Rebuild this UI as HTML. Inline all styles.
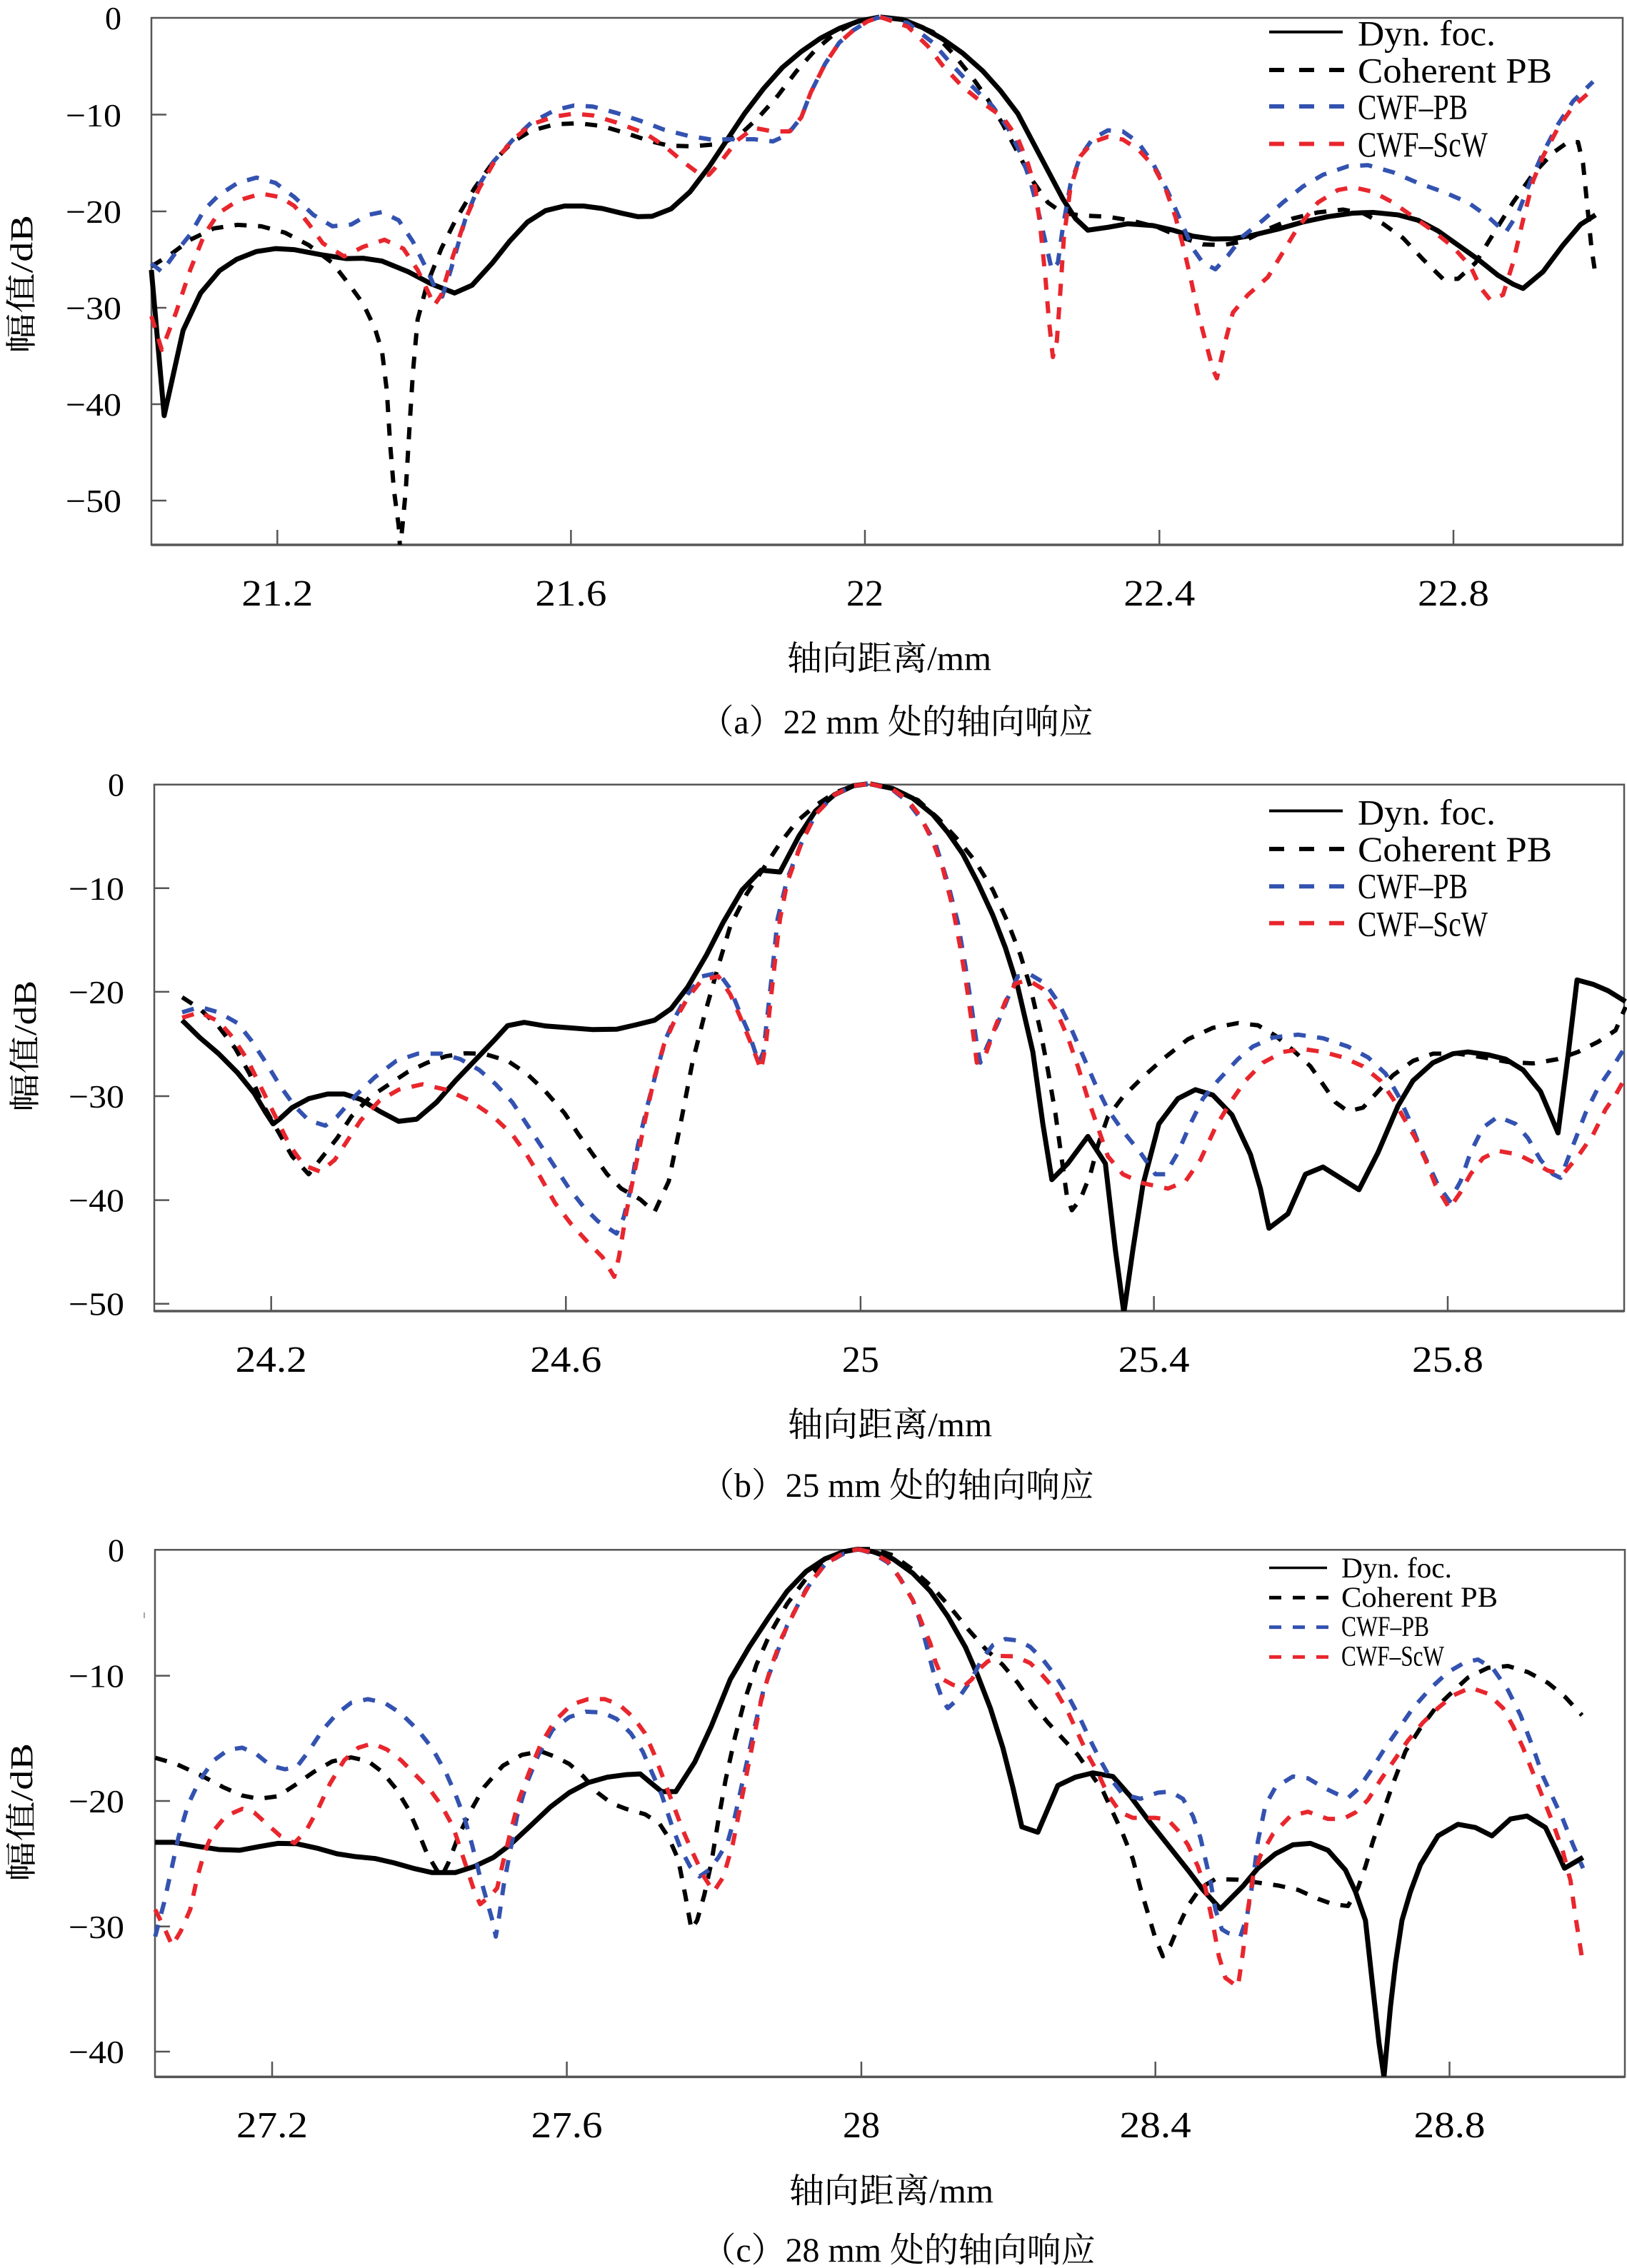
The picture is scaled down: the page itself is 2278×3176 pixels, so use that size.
<!DOCTYPE html>
<html><head><meta charset="utf-8">
<style>
html,body{margin:0;padding:0;background:#fff;}
svg{display:block;}
.l{fill:none;stroke-linejoin:round;stroke-linecap:butt;vector-effect:non-scaling-stroke;}
.s{stroke:#000;stroke-width:7;}
.c{stroke:#000;stroke-width:6;stroke-dasharray:17 16;}
.b{stroke:#3352b0;stroke-width:6;stroke-dasharray:17 16;}
.r{stroke:#e8262d;stroke-width:6;stroke-dasharray:17 16;}
.fr{fill:none;stroke:#555;stroke-width:2.5;}
.tk{stroke:#555;stroke-width:2.5;}
.yt{font-family:"Liberation Serif",serif;font-size:46px;text-anchor:end;fill:#000;}
.xt{font-family:"Liberation Serif","Noto Serif CJK SC",serif;font-size:52px;text-anchor:middle;fill:#000;}
.cap{font-family:"Liberation Serif","Noto Serif CJK SC",serif;font-size:48px;text-anchor:middle;fill:#000;}
.yl{font-family:"Liberation Serif","Noto Serif CJK SC",serif;font-size:44px;text-anchor:middle;fill:#000;}
.lg{font-family:"Liberation Serif",serif;font-size:50px;fill:#000;}
.lg2{font-family:"Liberation Serif",serif;font-size:40px;fill:#000;}
.ls{stroke:#000;stroke-width:4;}
.lc{stroke:#000;stroke-width:6;stroke-dasharray:21 21;}
.lb{stroke:#3352b0;stroke-width:6;stroke-dasharray:21 21;}
.lr{stroke:#e8262d;stroke-width:6;stroke-dasharray:21 21;}
</style></head>
<body>
<svg width="2278" height="3176" viewBox="0 0 2278 3176" xmlns="http://www.w3.org/2000/svg">
<defs>
<clipPath id="ca" clipPathUnits="userSpaceOnUse"><rect x="200" y="10" width="2080" height="753"/></clipPath>
<clipPath id="cb" clipPathUnits="userSpaceOnUse"><rect x="200" y="1085" width="2080" height="751"/></clipPath>
<clipPath id="cc" clipPathUnits="userSpaceOnUse"><rect x="200" y="2155" width="2080" height="753"/></clipPath>
</defs>
<rect x="0" y="0" width="2278" height="3176" fill="#fff"/>

<!-- ================= PANEL A ================= -->
<rect class="fr" x="212" y="25" width="2060" height="738"/>
<line class="tk" x1="212" y1="763" x2="2272" y2="763" style="stroke-width:3.5"/>
<g class="tk">
<line x1="212" y1="160.5" x2="233" y2="160.5"/><line x1="212" y1="296" x2="233" y2="296"/><line x1="212" y1="431" x2="233" y2="431"/><line x1="212" y1="566" x2="233" y2="566"/><line x1="212" y1="701" x2="233" y2="701"/>
<line x1="388.3" y1="763" x2="388.3" y2="742"/><line x1="799.4" y1="763" x2="799.4" y2="742"/><line x1="1211" y1="763" x2="1211" y2="742"/><line x1="1623.3" y1="763" x2="1623.3" y2="742"/><line x1="2035" y1="763" x2="2035" y2="742"/>
</g>
<text class="yt" x="170" y="41">0</text>
<text class="yt" x="170" y="177" textLength="78" lengthAdjust="spacingAndGlyphs">−10</text>
<text class="yt" x="170" y="312" textLength="78" lengthAdjust="spacingAndGlyphs">−20</text>
<text class="yt" x="170" y="447" textLength="78" lengthAdjust="spacingAndGlyphs">−30</text>
<text class="yt" x="170" y="582" textLength="78" lengthAdjust="spacingAndGlyphs">−40</text>
<text class="yt" x="170" y="717" textLength="78" lengthAdjust="spacingAndGlyphs">−50</text>
<text class="xt" x="388.3" y="848" textLength="100" lengthAdjust="spacingAndGlyphs">21.2</text>
<text class="xt" x="799.4" y="848" textLength="100" lengthAdjust="spacingAndGlyphs">21.6</text>
<text class="xt" x="1211" y="848">22</text>
<text class="xt" x="1623.3" y="848" textLength="100" lengthAdjust="spacingAndGlyphs">22.4</text>
<text class="xt" x="2035" y="848" textLength="100" lengthAdjust="spacingAndGlyphs">22.8</text>
<text class="yl" transform="translate(45,398) rotate(-90)" x="0" y="0" textLength="194" lengthAdjust="spacingAndGlyphs">幅值/dB</text>
<text class="cap" x="1245" y="938" textLength="286" lengthAdjust="spacingAndGlyphs">轴向距离/mm</text>
<text class="cap" x="1255" y="1027" textLength="551" lengthAdjust="spacingAndGlyphs">（a）22 mm 处的轴向响应</text>

<g clip-path="url(#ca)">
<g transform="translate(200,0) scale(0.6633,0.4974)">
<polyline class="l s" points="18,760 45,1170 85,930 122,825 162,762 198,730 240,708 280,700 320,703 380,718 430,728 465,727 505,735 560,765 610,800 658,825 695,803 738,740 775,678 812,625 850,593 890,580 930,580 970,587 1010,600 1045,610 1075,609 1115,588 1155,540 1195,470 1230,400 1270,320 1310,250 1350,190 1390,145 1430,108 1470,80 1510,60 1555,48"/>
<polyline class="l c" points="18,750 60,715 100,675 150,643 200,633 250,637 300,655 350,690 400,740 435,800 465,855 490,925 505,990 515,1100 522,1250 530,1380 540,1480 543,1545 548,1480 555,1380 563,1200 570,1050 580,900 600,800 630,700 660,620 700,530 740,455 780,400 820,368 870,350 920,347 970,355 1020,375 1070,397 1110,410 1160,412 1220,405 1260,380 1300,330 1340,270 1380,200 1420,140 1460,95 1500,65 1555,48"/>
<polyline class="l b" points="18,742 40,765 70,710 100,660 130,590 160,550 200,515 240,500 280,515 320,555 360,605 400,637 440,632 475,605 505,597 540,620 570,680 600,760 620,820 632,835 650,760 680,620 710,520 740,455 780,395 820,345 870,310 910,297 950,300 1000,318 1050,340 1100,365 1150,382 1200,393 1250,392 1290,392 1330,398 1360,380 1390,330 1410,260 1440,180 1470,120 1500,85 1530,60 1555,48"/>
<polyline class="l r" points="18,890 40,985 70,880 100,760 130,660 160,600 200,565 250,545 290,555 320,580 350,630 380,685 425,722 465,695 510,675 550,700 580,760 605,830 615,860 630,830 650,740 680,620 710,530 740,460 780,395 820,350 870,328 910,320 950,325 1000,345 1060,375 1100,410 1140,455 1175,490 1195,492 1220,455 1255,395 1290,360 1330,370 1365,370 1390,330 1410,260 1440,180 1470,120 1500,85 1530,60 1555,48"/>
</g>
<g transform="translate(1180,0) scale(0.7003,0.4974)">
<polyline class="l s" points="75,48 120,55 160,78 200,110 240,150 280,200 315,255 350,320 380,400 410,480 440,560 465,615 490,648 530,640 570,630 620,635 660,648 700,665 740,673 780,672 820,662 870,645 920,625 970,610 1020,600 1060,598 1110,605 1150,620 1190,650 1230,690 1270,730 1310,775 1340,800 1360,812 1400,765 1440,690 1475,632 1505,605"/>
<polyline class="l c" points="75,48 130,60 180,90 220,150 260,220 290,280 320,350 350,430 380,510 410,570 440,600 480,607 530,610 580,622 630,640 680,670 720,688 760,690 800,680 850,645 900,615 950,598 1000,590 1040,600 1080,630 1120,670 1160,730 1200,785 1230,785 1265,740 1300,660 1340,570 1380,490 1420,430 1450,400 1470,400 1480,460 1490,600 1497,700 1505,775"/>
<polyline class="l b" points="75,48 130,65 180,120 220,185 260,245 300,300 330,360 355,430 375,510 390,590 405,680 418,760 430,740 440,640 455,520 475,440 500,390 530,367 560,370 590,400 620,460 650,540 675,620 700,700 720,740 745,758 770,720 800,665 840,620 880,570 920,525 960,492 1010,468 1050,465 1100,485 1150,515 1200,540 1250,570 1290,610 1325,655 1350,600 1375,510 1400,430 1430,350 1460,285 1500,230"/>
<polyline class="l r" points="75,48 130,75 170,130 200,185 240,245 280,290 320,330 350,390 370,460 385,530 395,640 405,780 412,900 420,1005 428,960 435,820 442,670 455,530 475,440 500,400 530,385 560,393 590,420 620,465 645,530 665,610 680,690 695,780 710,880 725,960 740,1040 748,1065 755,1020 765,960 780,880 810,830 850,780 880,710 910,640 950,570 990,535 1020,527 1060,540 1100,570 1140,610 1180,650 1220,695 1255,750 1275,810 1295,845 1320,830 1340,740 1360,620 1380,510 1400,440 1430,360 1460,300 1505,245"/>
</g>
</g>
<line class="ls" x1="1777" y1="44.8" x2="1880" y2="44.8"/>
<line class="lc" x1="1777" y1="98" x2="1882" y2="98"/>
<line class="lb" x1="1777" y1="149" x2="1882" y2="149"/>
<line class="lr" x1="1777" y1="201.5" x2="1882" y2="201.5"/>
<text class="lg" x="1901" y="63.7" textLength="193" lengthAdjust="spacingAndGlyphs">Dyn. foc.</text>
<text class="lg" x="1901" y="115.4" textLength="272" lengthAdjust="spacingAndGlyphs">Coherent PB</text>
<text class="lg" x="1901" y="166.6" textLength="154" lengthAdjust="spacingAndGlyphs">CWF–PB</text>
<text class="lg" x="1901" y="219" textLength="182" lengthAdjust="spacingAndGlyphs">CWF–ScW</text>

<!-- ================= PANEL B ================= -->
<rect class="fr" x="216" y="1098.7" width="2058" height="737.3"/>
<line class="tk" x1="216" y1="1836" x2="2274" y2="1836" style="stroke-width:3.5"/>
<g class="tk">
<line x1="216" y1="1243.8" x2="237" y2="1243.8"/><line x1="216" y1="1388.9" x2="237" y2="1388.9"/><line x1="216" y1="1535" x2="237" y2="1535"/><line x1="216" y1="1680.6" x2="237" y2="1680.6"/><line x1="216" y1="1825.7" x2="237" y2="1825.7"/>
<line x1="379.7" y1="1836" x2="379.7" y2="1815"/><line x1="792.3" y1="1836" x2="792.3" y2="1815"/><line x1="1204.9" y1="1836" x2="1204.9" y2="1815"/><line x1="1615.6" y1="1836" x2="1615.6" y2="1815"/><line x1="2027" y1="1836" x2="2027" y2="1815"/>
</g>
<text class="yt" x="174" y="1114.7">0</text>
<text class="yt" x="174" y="1259.8" textLength="78" lengthAdjust="spacingAndGlyphs">−10</text>
<text class="yt" x="174" y="1404.9" textLength="78" lengthAdjust="spacingAndGlyphs">−20</text>
<text class="yt" x="174" y="1551" textLength="78" lengthAdjust="spacingAndGlyphs">−30</text>
<text class="yt" x="174" y="1696.6" textLength="78" lengthAdjust="spacingAndGlyphs">−40</text>
<text class="yt" x="174" y="1841.7" textLength="78" lengthAdjust="spacingAndGlyphs">−50</text>
<text class="xt" x="379.7" y="1921" textLength="100" lengthAdjust="spacingAndGlyphs">24.2</text>
<text class="xt" x="792.3" y="1921" textLength="100" lengthAdjust="spacingAndGlyphs">24.6</text>
<text class="xt" x="1204.9" y="1921">25</text>
<text class="xt" x="1615.6" y="1921" textLength="100" lengthAdjust="spacingAndGlyphs">25.4</text>
<text class="xt" x="2027" y="1921" textLength="100" lengthAdjust="spacingAndGlyphs">25.8</text>
<text class="yl" transform="translate(50,1465) rotate(-90)" x="0" y="0" textLength="184" lengthAdjust="spacingAndGlyphs">幅值/dB</text>
<text class="cap" x="1246" y="2011" textLength="286" lengthAdjust="spacingAndGlyphs">轴向距离/mm</text>
<text class="cap" x="1256" y="2096" textLength="551" lengthAdjust="spacingAndGlyphs">（b）25 mm 处的轴向响应</text>

<g clip-path="url(#cb)">
<g transform="translate(200,1070) scale(0.6633,0.5038)">
<polyline class="l s" points="83,712 120,760 160,805 200,858 235,915 260,970 275,1000 290,985 315,955 350,930 390,917 425,917 460,932 500,965 540,993 578,987 620,940 660,880 700,825 740,770 770,727 805,718 850,728 900,733 950,738 1000,737 1040,725 1080,712 1115,680 1150,620 1190,530 1225,440 1265,350 1305,295 1345,300 1385,200 1420,130 1460,85 1500,60 1530,55"/>
<polyline class="l c" points="83,648 120,680 160,730 195,790 225,860 255,950 285,1020 315,1090 350,1140 380,1090 410,1040 440,980 480,925 520,890 560,855 600,830 640,812 680,804 720,805 770,825 810,860 850,910 890,970 920,1030 950,1085 980,1140 1010,1180 1050,1210 1080,1245 1110,1160 1135,1000 1160,830 1185,700 1215,560 1240,450 1275,360 1310,290 1345,220 1380,160 1420,115 1460,80 1500,60 1530,55"/>
<polyline class="l b" points="83,690 120,675 160,690 200,720 230,770 260,830 290,895 320,950 350,990 385,1005 410,980 450,920 490,870 535,825 580,805 630,805 670,820 710,850 745,890 780,940 810,1000 840,1060 870,1120 900,1180 930,1230 960,1270 1000,1305 1015,1260 1030,1180 1045,1060 1065,950 1085,850 1105,760 1125,700 1150,640 1180,590 1215,580 1240,625 1260,690 1280,750 1300,830 1310,800 1320,680 1330,560 1340,430 1360,320 1390,220 1420,140 1460,85 1500,60 1530,55"/>
<polyline class="l r" points="83,705 120,690 160,715 190,760 220,820 250,900 280,980 310,1060 340,1115 375,1133 405,1100 430,1050 460,990 500,935 540,905 590,890 640,905 690,935 740,980 780,1030 810,1085 840,1150 870,1220 905,1280 940,1330 970,1370 995,1425 1005,1370 1020,1250 1040,1120 1060,990 1080,870 1100,780 1120,720 1150,650 1180,600 1215,590 1240,640 1260,700 1285,780 1305,850 1315,780 1325,660 1335,540 1345,430 1360,330 1390,220 1420,140 1460,85 1500,60 1530,55"/>
</g>
<g transform="translate(1180,1070) scale(0.7003,0.5038)">
<polyline class="l s" points="55,55 100,68 140,95 180,140 210,190 240,250 270,330 300,420 325,510 350,620 380,800 400,1000 418,1155 450,1110 490,1035 525,1110 545,1350 562,1525 580,1350 600,1170 632,1000 670,930 705,905 740,920 778,975 815,1085 835,1180 852,1290 890,1250 925,1140 960,1120 1000,1155 1032,1183 1070,1080 1110,950 1140,880 1180,830 1220,805 1250,800 1290,808 1325,820 1360,850 1395,910 1430,1025 1450,810 1468,600 1500,612 1530,630 1565,660"/>
<polyline class="l c" points="55,55 100,70 150,100 190,150 230,210 265,270 300,350 330,440 355,530 375,620 395,740 410,850 425,970 438,1100 448,1200 458,1240 475,1210 495,1140 510,1060 530,980 560,925 600,870 640,820 690,765 740,733 790,720 830,726 865,755 900,795 935,840 960,890 985,940 1010,965 1040,955 1070,910 1100,865 1140,825 1180,805 1230,805 1280,815 1330,828 1380,832 1430,820 1470,800 1510,772 1545,740 1565,675"/>
<polyline class="l b" points="55,55 100,72 130,105 160,160 185,220 210,330 230,440 245,560 258,680 268,780 275,830 290,780 310,720 330,650 350,590 375,585 405,610 430,660 455,730 480,810 505,890 530,960 560,1020 595,1080 625,1140 645,1140 670,1080 695,1000 720,930 750,880 790,820 820,785 860,760 910,752 960,762 1010,785 1050,815 1085,860 1110,920 1130,980 1150,1050 1170,1110 1190,1170 1213,1215 1235,1160 1255,1080 1280,1010 1310,980 1345,1000 1370,1040 1395,1100 1420,1140 1435,1150 1460,1060 1485,970 1510,900 1540,840 1565,785"/>
<polyline class="l r" points="55,55 100,70 130,100 155,145 180,215 200,290 220,400 235,510 248,620 258,720 268,830 285,810 305,730 325,660 345,610 370,600 400,625 425,680 450,760 470,840 490,930 510,1010 530,1090 560,1140 600,1165 650,1180 685,1160 715,1100 745,1010 775,940 805,880 840,830 880,800 920,792 960,800 1000,815 1040,840 1075,880 1100,930 1120,980 1145,1040 1165,1100 1185,1170 1213,1235 1235,1190 1255,1140 1280,1095 1310,1075 1350,1085 1385,1110 1410,1130 1440,1140 1470,1090 1500,1030 1525,960 1545,920 1565,870"/>
</g>
</g>
<line class="ls" x1="1777" y1="1135.5" x2="1880" y2="1135.5"/>
<line class="lc" x1="1777" y1="1188.9" x2="1882" y2="1188.9"/>
<line class="lb" x1="1777" y1="1241.3" x2="1882" y2="1241.3"/>
<line class="lr" x1="1777" y1="1292.7" x2="1882" y2="1292.7"/>
<text class="lg" x="1901" y="1154.6" textLength="193" lengthAdjust="spacingAndGlyphs">Dyn. foc.</text>
<text class="lg" x="1901" y="1206" textLength="272" lengthAdjust="spacingAndGlyphs">Coherent PB</text>
<text class="lg" x="1901" y="1257.4" textLength="154" lengthAdjust="spacingAndGlyphs">CWF–PB</text>
<text class="lg" x="1901" y="1310.3" textLength="182" lengthAdjust="spacingAndGlyphs">CWF–ScW</text>

<!-- ================= PANEL C ================= -->
<rect class="fr" x="217" y="2170.3" width="2058" height="738.1"/>
<line class="tk" x1="217" y1="2908.4" x2="2275" y2="2908.4" style="stroke-width:3.5"/>
<line x1="202" y1="2258" x2="202" y2="2266" stroke="#888" stroke-width="1.5"/>
<g class="tk">
<line x1="217" y1="2346.6" x2="238" y2="2346.6"/><line x1="217" y1="2522" x2="238" y2="2522"/><line x1="217" y1="2697.8" x2="238" y2="2697.8"/><line x1="217" y1="2873" x2="238" y2="2873"/>
<line x1="381" y1="2908.4" x2="381" y2="2887"/><line x1="793.6" y1="2908.4" x2="793.6" y2="2887"/><line x1="1206" y1="2908.4" x2="1206" y2="2887"/><line x1="1617.7" y1="2908.4" x2="1617.7" y2="2887"/><line x1="2029.5" y1="2908.4" x2="2029.5" y2="2887"/>
</g>
<text class="yt" x="174" y="2186.3">0</text>
<text class="yt" x="174" y="2362.6" textLength="78" lengthAdjust="spacingAndGlyphs">−10</text>
<text class="yt" x="174" y="2538" textLength="78" lengthAdjust="spacingAndGlyphs">−20</text>
<text class="yt" x="174" y="2713.8" textLength="78" lengthAdjust="spacingAndGlyphs">−30</text>
<text class="yt" x="174" y="2889" textLength="78" lengthAdjust="spacingAndGlyphs">−40</text>
<text class="xt" x="381" y="2993" textLength="100" lengthAdjust="spacingAndGlyphs">27.2</text>
<text class="xt" x="793.6" y="2993" textLength="100" lengthAdjust="spacingAndGlyphs">27.6</text>
<text class="xt" x="1206" y="2993">28</text>
<text class="xt" x="1617.7" y="2993" textLength="100" lengthAdjust="spacingAndGlyphs">28.4</text>
<text class="xt" x="2029.5" y="2993" textLength="100" lengthAdjust="spacingAndGlyphs">28.8</text>
<text class="yl" transform="translate(45,2538) rotate(-90)" x="0" y="0" textLength="194" lengthAdjust="spacingAndGlyphs">幅值/dB</text>
<text class="cap" x="1248" y="3084" textLength="286" lengthAdjust="spacingAndGlyphs">轴向距离/mm</text>
<text class="cap" x="1258" y="3167" textLength="551" lengthAdjust="spacingAndGlyphs">（c）28 mm 处的轴向响应</text>

<g clip-path="url(#cc)">
<g transform="translate(200,2130) scale(0.6633,0.5038)">
<polyline class="l s" points="26,893 65,893 110,903 160,913 205,915 245,905 285,896 325,897 370,910 410,925 450,933 490,938 530,950 570,965 610,977 660,977 700,960 740,935 775,900 820,845 860,795 900,755 940,727 980,712 1020,705 1050,703 1070,725 1095,752 1125,752 1165,670 1200,570 1240,440 1280,350 1320,270 1360,195 1400,140 1440,105 1480,85 1510,78"/>
<polyline class="l c" points="26,658 70,675 120,705 170,740 210,763 245,772 285,765 320,735 360,698 400,668 440,657 475,667 505,697 535,745 560,800 580,860 600,925 618,965 630,990 645,950 665,880 690,810 720,740 760,680 800,650 840,640 870,655 900,675 930,710 960,755 990,785 1020,800 1060,815 1090,840 1110,880 1130,940 1145,1040 1158,1135 1170,1110 1185,1040 1200,950 1215,830 1230,720 1250,600 1270,500 1295,400 1325,310 1360,230 1400,160 1440,115 1480,90 1510,78"/>
<polyline class="l b" points="26,1155 45,1060 60,970 75,880 95,790 120,720 150,665 180,636 210,630 240,648 270,680 300,690 325,683 350,640 380,580 410,535 440,505 475,495 510,505 545,535 580,580 610,630 640,700 660,760 680,830 695,900 710,980 725,1050 740,1120 745,1155 752,1100 762,1010 775,920 790,820 810,730 835,650 865,580 900,545 935,530 970,532 1000,550 1030,590 1055,640 1075,700 1095,760 1115,840 1135,910 1155,960 1175,988 1195,970 1215,935 1235,890 1250,820 1270,700 1290,580 1310,470 1335,380 1360,290 1400,190 1440,120 1480,90 1510,78"/>
<polyline class="l r" points="26,1080 45,1130 62,1180 80,1140 100,1080 115,990 130,920 150,860 175,820 210,800 235,810 260,840 290,875 320,895 345,860 370,800 395,730 425,665 455,630 485,618 515,635 545,665 575,705 605,745 630,790 655,850 670,910 685,970 700,1030 712,1065 735,1040 748,1020 760,950 775,870 795,770 815,700 840,620 870,555 905,510 940,495 975,495 1005,510 1035,545 1060,590 1080,650 1100,720 1120,790 1140,860 1160,920 1185,990 1205,1030 1225,990 1245,900 1260,800 1275,700 1290,600 1305,500 1325,410 1350,320 1380,240 1410,170 1440,120 1480,88 1510,78"/>
</g>
<g transform="translate(1180,2130) scale(0.7003,0.5038)">
<polyline class="l s" points="30,78 60,85 100,105 140,145 175,195 210,265 245,350 270,430 295,520 320,630 340,740 358,850 390,865 410,800 430,735 465,712 500,700 540,710 575,765 610,830 650,900 690,970 720,1025 755,1078 800,1015 830,965 865,925 900,900 935,896 970,915 1005,970 1025,1030 1045,1110 1060,1300 1072,1450 1082,1545 1095,1350 1105,1230 1118,1110 1135,1030 1155,955 1190,875 1230,843 1265,852 1298,875 1335,828 1368,820 1405,852 1425,910 1443,965 1480,935"/>
<polyline class="l c" points="30,78 60,78 100,95 140,135 180,185 215,240 250,300 285,355 320,400 350,450 380,510 410,560 440,605 470,650 495,700 520,750 540,810 560,870 580,940 595,1020 610,1090 625,1160 640,1210 655,1180 670,1130 690,1070 715,1020 745,995 790,997 830,1005 870,1013 910,1025 950,1050 980,1065 1010,1070 1030,1020 1045,960 1060,890 1080,810 1100,730 1125,640 1155,575 1185,520 1215,480 1250,435 1290,408 1330,403 1370,420 1410,450 1445,490 1478,540"/>
<polyline class="l b" points="30,78 60,90 90,115 115,160 140,220 155,280 170,360 185,440 200,500 210,520 230,495 255,445 280,380 300,345 325,328 350,332 375,350 400,385 425,430 450,485 475,550 495,610 515,665 535,715 560,760 595,772 630,755 655,752 680,772 700,820 715,880 725,940 735,1000 745,1080 758,1135 770,1145 795,1155 808,1100 820,1000 830,890 845,790 865,740 900,710 930,715 960,740 990,760 1010,770 1030,745 1055,695 1080,640 1110,580 1140,520 1175,465 1210,420 1245,392 1270,385 1300,410 1330,470 1355,540 1380,630 1400,710 1420,770 1440,830 1460,900 1480,965"/>
<polyline class="l r" points="30,78 60,88 90,112 110,150 140,220 160,290 175,340 185,390 200,440 220,455 240,462 258,440 270,415 290,390 315,375 345,376 375,395 400,430 425,470 450,530 470,590 490,650 510,700 530,760 555,810 580,825 625,825 650,830 670,860 690,900 710,960 725,1020 740,1120 752,1210 765,1270 790,1295 800,1200 810,1080 820,990 835,930 860,870 895,820 930,808 970,828 1000,828 1025,810 1050,775 1075,720 1100,670 1130,610 1160,560 1190,520 1220,485 1255,463 1290,480 1320,520 1340,570 1360,630 1380,700 1400,770 1420,840 1440,920 1455,1000 1465,1100 1478,1215"/>
</g>
</g>
<line class="ls" x1="1777" y1="2195.5" x2="1858" y2="2195.5" style="stroke-width:3.5"/>
<line class="lc" x1="1777" y1="2237.3" x2="1860" y2="2237.3" style="stroke-width:5;stroke-dasharray:17 16"/>
<line class="lb" x1="1777" y1="2278.6" x2="1860" y2="2278.6" style="stroke-width:5;stroke-dasharray:17 16"/>
<line class="lr" x1="1777" y1="2320.4" x2="1860" y2="2320.4" style="stroke-width:5;stroke-dasharray:17 16"/>
<text class="lg2" x="1878" y="2209" textLength="155" lengthAdjust="spacingAndGlyphs">Dyn. foc.</text>
<text class="lg2" x="1878" y="2250" textLength="219" lengthAdjust="spacingAndGlyphs">Coherent PB</text>
<text class="lg2" x="1878" y="2291" textLength="123" lengthAdjust="spacingAndGlyphs">CWF–PB</text>
<text class="lg2" x="1878" y="2332.5" textLength="144" lengthAdjust="spacingAndGlyphs">CWF–ScW</text>
</svg>
</body></html>
